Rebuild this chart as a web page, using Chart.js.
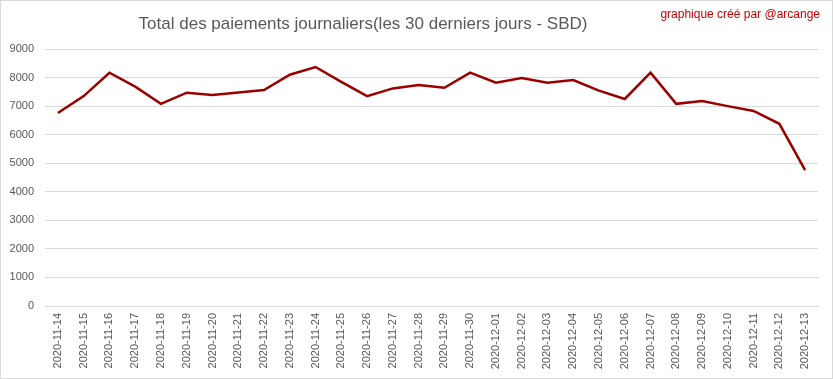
<!DOCTYPE html>
<html>
<head>
<meta charset="utf-8">
<script src="https://cdn.jsdelivr.net/npm/chart.js@4/dist/chart.umd.min.js"></script>
<style>
  html, body { margin: 0; padding: 0; background: #fff; }
  canvas { display: block; }
</style>
</head>
<body>
<canvas id="c" width="833" height="379"></canvas>
<script>
const titleText = "Total des paiements journaliers(les 30 derniers jours - SBD)";
const creditText = "graphique créé par @arcange";

const dates = [
  "2020-11-14","2020-11-15","2020-11-16","2020-11-17","2020-11-18","2020-11-19",
  "2020-11-20","2020-11-21","2020-11-22","2020-11-23","2020-11-24","2020-11-25",
  "2020-11-26","2020-11-27","2020-11-28","2020-11-29","2020-11-30","2020-12-01",
  "2020-12-02","2020-12-03","2020-12-04","2020-12-05","2020-12-06","2020-12-07",
  "2020-12-08","2020-12-09","2020-12-10","2020-12-11","2020-12-12","2020-12-13"
];

const payments = [
  6760, 7350, 8170, 7680, 7080, 7470,
  7390, 7480, 7560, 8100, 8370, 7850,
  7350, 7620, 7740, 7640, 8170, 7820,
  7980, 7820, 7910, 7540, 7250, 8170,
  7080, 7180, 7000, 6830, 6380, 4760
];

const yMin = 0;
const yMax = 9000;
const yStep = 1000;

const decorPlugin = {
  id: 'decor',
  beforeDraw(chart) {
    const ctx = chart.ctx;
    ctx.save();
    ctx.fillStyle = '#ffffff';
    ctx.fillRect(0, 0, chart.width, chart.height);
    ctx.restore();
  },
  afterDraw(chart) {
    const ctx = chart.ctx;
    ctx.save();
    ctx.strokeStyle = '#d9d9d9';
    ctx.lineWidth = 1;
    ctx.strokeRect(0.5, 0.5, chart.width - 1, chart.height - 1);

    ctx.fillStyle = '#595959';
    ctx.font = '17px "Liberation Sans", Arial, sans-serif';
    ctx.textAlign = 'center';
    ctx.textBaseline = 'middle';
    ctx.fillText(titleText, 363, 24);

    ctx.fillStyle = '#c00000';
    ctx.font = '12px "Liberation Sans", Arial, sans-serif';
    ctx.textAlign = 'right';
    ctx.fillText(creditText, 820, 15);
    ctx.restore();
  }
};

new Chart(document.getElementById('c'), {
  type: 'line',
  data: {
    labels: dates,
    datasets: [{
      data: payments,
      borderColor: '#9a0000',
      backgroundColor: '#9a0000',
      borderWidth: 2.5,
      pointRadius: 0,
      tension: 0,
      fill: false
    }]
  },
  options: {
    responsive: false,
    animation: false,
    devicePixelRatio: 1,
    layout: { padding: { top: 49, right: 15, left: 0, bottom: 0 } },
    plugins: {
      legend: { display: false },
      title: { display: false },
      tooltip: { enabled: false }
    },
    scales: {
      x: {
        offset: true,
        grid: { display: false, drawTicks: false },
        border: { display: false },
        ticks: {
          color: '#595959',
          font: { family: '"Liberation Sans", Arial, sans-serif', size: 11 },
          minRotation: 90,
          maxRotation: 90,
          autoSkip: false,
          padding: 7
        },
        afterFit(scale) { scale.height = 73; }
      },
      y: {
        min: yMin,
        max: yMax,
        grid: { color: '#d9d9d9', lineWidth: 1, drawTicks: false },
        border: { display: false },
        ticks: {
          stepSize: yStep,
          color: '#595959',
          font: { family: '"Liberation Sans", Arial, sans-serif', size: 11 },
          padding: 11,
          callback: (v) => String(v)
        },
        afterFit(scale) { scale.width = 45; }
      }
    }
  },
  plugins: [decorPlugin]
});
</script>
</body>
</html>
